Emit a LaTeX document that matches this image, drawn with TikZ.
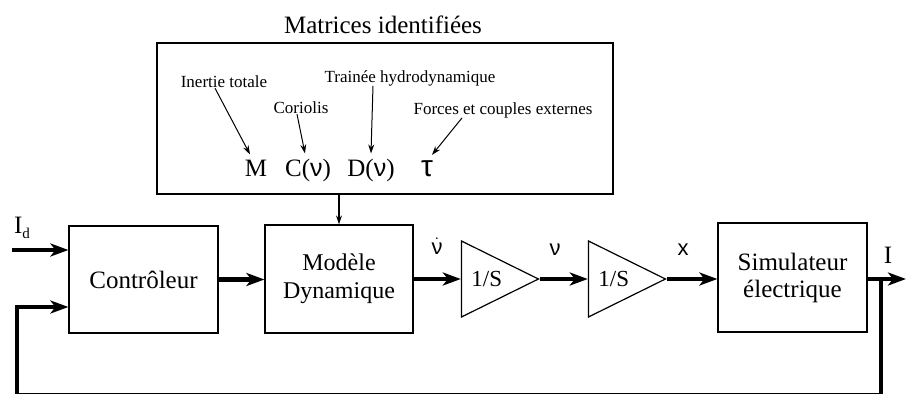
\documentclass[tikz,border=0pt]{standalone}
\usepackage{fontspec}
\setmainfont{Liberation Serif}
\newfontfamily\sansgr{Liberation Sans}
\usetikzlibrary{arrows.meta,shapes.geometric,calc}
\newcommand{\fsz}[1]{\fontsize{#1}{#1}\selectfont}
\begin{document}
\begin{tikzpicture}[x=1pt,y=-1pt,
  blk/.style={draw,line width=1.2pt,inner sep=0pt,align=center,font=\fsz{25}},
  tri/.style={draw,line width=1.2pt,isosceles triangle,isosceles triangle stretches,
    minimum width=76pt,minimum height=77pt,inner sep=0pt},
  tritext/.style={inner sep=0pt,font=\fsz{23}},
  bigarrow/.style={line width=4.5pt,-{Stealth[length=18pt,width=13pt,inset=5pt]}},
  bigline/.style={line width=4.5pt},
  thinarrow/.style={line width=1pt,-{Stealth[length=9pt,width=6pt]}},
  small/.style={inner sep=0pt,font=\fsz{17}},
  sym/.style={inner sep=0pt,anchor=base,font=\fsz{25}},
  sig/.style={inner sep=0pt,font=\sansgr\fsz{22}}]
\useasboundingbox (0,0) rectangle (906,394);
% title and top box
\node[inner sep=0pt,font=\fsz{25}] (title) at (383,25) {Matrices identifiées};
\node[draw,line width=1.2pt,minimum width=456pt,minimum height=151pt,inner sep=0pt] (top) at (385,118.5) {};
\node[small] (ine) at (224,82) {Inertie totale};
\node[small] (cor) at (301,108) {Coriolis};
\node[small] (tra) at (410,78) {Trainée hydrodynamique};
\node[small] (for) at (503,110) {Forces et couples externes};
\node[sym] (M) at (256,176) {M};
\node[sym] (C) at (308,176) {C({\sansgr ν})};
\node[sym] (D) at (371,176) {D({\sansgr ν})};
\node[sym,font=\sansgr\fsz{30}] (tau) at (427,176) {τ};
\draw[thinarrow] ([xshift=-9pt]ine.south) -- ([xshift=-6pt,yshift=5pt]M.north);
\draw[thinarrow] ([xshift=-4pt]cor.south) -- ([xshift=-3pt,yshift=5pt]C.north);
\draw[thinarrow] ([xshift=-37pt]tra.south) -- ([yshift=5pt]D.north);
\draw[thinarrow] ([xshift=-41pt]for.south) -- ([xshift=5pt,yshift=5pt]tau.north);
% blocks
\node[blk,minimum width=149pt,minimum height=107pt] (ctrl) at (143.5,279.5) {Contrôleur};
\node[blk,minimum width=148pt,minimum height=108pt,font=\fsz{24},align=center] (model) at (339,279) {Modèle\\[4pt]Dynamique};
\node[tri,anchor=apex] (t1) at (540,279) {};
\node[tri,anchor=apex] (t2) at (667,279) {};
\node[tritext] (t1txt) at ($(t1.west)+(26,0)$) {1/S};
\node[tritext] (t2txt) at ($(t2.west)+(26,0)$) {1/S};
\node[blk,minimum width=149pt,minimum height=109pt] (sim) at (792.5,277.5) {Simulateur\\[2pt]électrique};
% signal labels
\node[sig] (nud) at (437,246) {\(\dot{\mbox{\sansgr\fsz{22}ν}}\)};
\node[sig] (nu) at (555,250) {ν};
\node[sig] (xx) at (683,250) {x};
\node[inner sep=0pt,font=\fsz{25}] (Iout) at (888,255) {I};
\node[inner sep=0pt,font=\fsz{25}] (Iin) at (22,228) {I\raisebox{-5pt}{\fsz{15}d}};
% connectors
\coordinate (inp) at (12,250);
\coordinate (out) at (906,279);
\coordinate (split) at (881,279);
\coordinate (bl) at (17,395.5);
\draw[thinarrow,line width=1.2pt] (top.south -| model.north) -- (model.north);
\draw[bigarrow] (inp) -- (inp -| ctrl.west);
\draw[bigarrow] (ctrl.east) -- (ctrl.east -| model.west);
\draw[bigarrow] (model.east |- t1.west) -- (t1.west);
\draw[bigarrow] (t1.apex) -- (t2.west);
\draw[bigarrow] (t2.apex) -- (t2.apex -| sim.west);
\draw[bigarrow] (sim.east |- out) -- (out);
\draw[bigline] (split) |- (bl);
\draw[bigarrow] (bl) |- ([yshift=-27.5pt]ctrl.west);
\end{tikzpicture}
\end{document}
